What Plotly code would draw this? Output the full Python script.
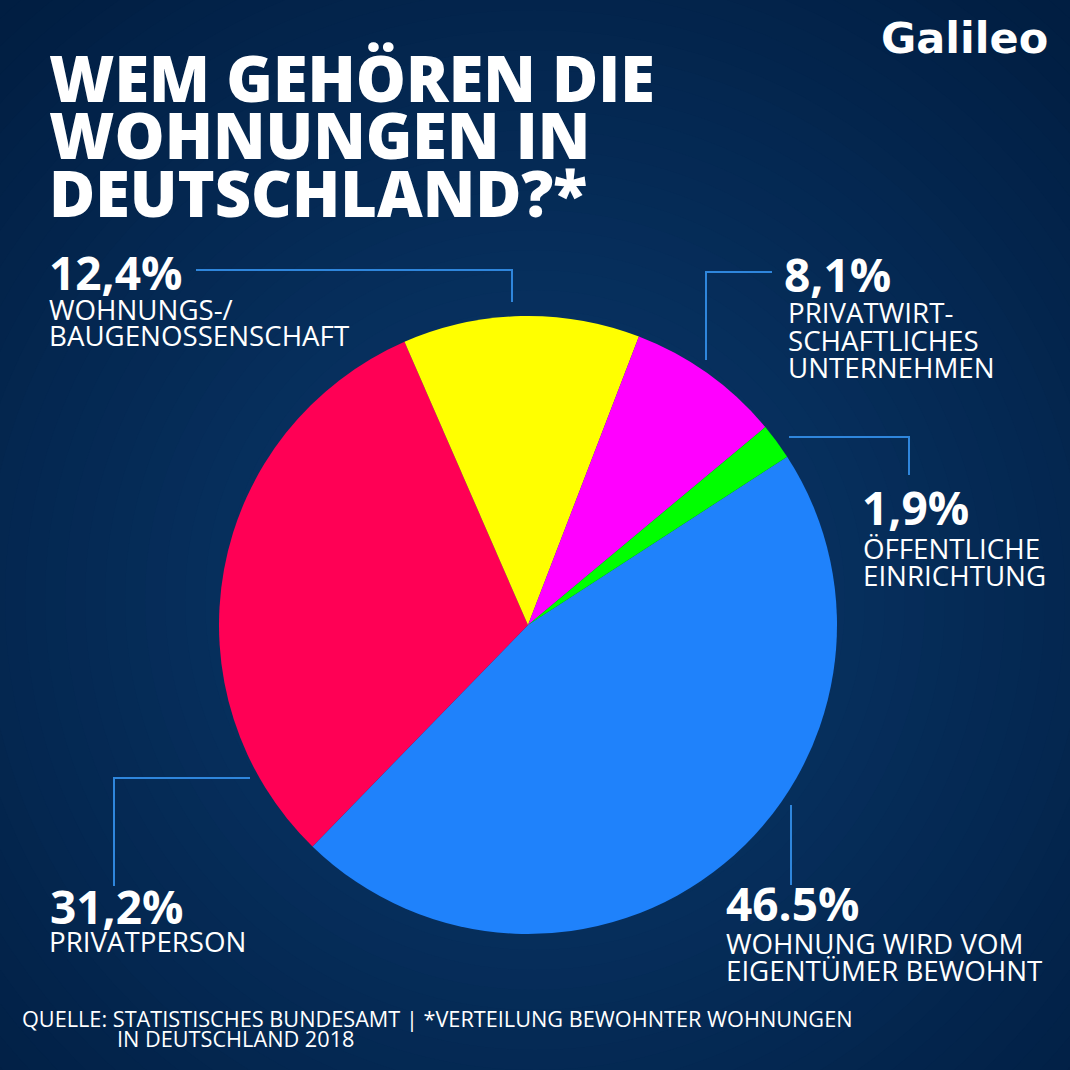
import plotly.graph_objects as go

SIZE = 1070
FONT = "Open Sans"
OUTER_BG = (1, 30, 66)
INNER_BG = (10, 58, 110)

labels = ["Wohnung wird vom Eigentümer bewohnt", "Privatperson", "Wohnungs-/Baugenossenschaft",
          "Privatwirtschaftliches Unternehmen", "Öffentliche Einrichtung"]
values = [46.5, 31.2, 12.4, 8.1, 1.9]
colors = ["#1f82fb", "#ff0055", "#ffff00", "#ff00ff", "#00ff00"]

title_lines = ["WEM GEHÖREN DIE", "WOHNUNGEN IN", "DEUTSCHLAND?*"]
source_lines = ["QUELLE: STATISTISCHES BUNDESAMT | *VERTEILUNG BEWOHNTER WOHNUNGEN",
                "IN DEUTSCHLAND 2018"]


def px(x):
    return x / SIZE


def py(y):
    return 1 - y / SIZE


fig = go.Figure(go.Pie(
    labels=labels,
    values=values,
    sort=False,
    direction="clockwise",
    rotation=57,
    marker=dict(colors=colors, line=dict(width=0)),
    textinfo="none",
    hoverinfo="label+value",
    showlegend=False,
    domain=dict(x=[px(219), px(837)], y=[py(934), py(316)]),
))

# radial background, a stack of circles from dark to light
steps = 40
for i in range(steps):
    t = i / (steps - 1)
    r = 780 * (1 - t) + 10
    col = [round(OUTER_BG[k] + (INNER_BG[k] - OUTER_BG[k]) * t) for k in range(3)]
    fig.add_shape(type="circle", xref="paper", yref="paper", layer="below",
                  x0=px(535 - r), x1=px(535 + r), y0=py(600 + r), y1=py(600 - r),
                  fillcolor=f"rgb({col[0]},{col[1]},{col[2]})", line_width=0)

# leader lines
leaders = [
    [(196, 270), (512, 270), (512, 302)],
    [(772, 272), (706, 272), (706, 360)],
    [(789, 437), (909, 437), (909, 475)],
    [(250, 778), (114, 778), (114, 886)],
    [(791, 805), (791, 885)],
]
for pts in leaders:
    path = "M " + " L ".join(f"{px(x)} {py(y)}" for x, y in pts)
    fig.add_shape(type="path", path=path, xref="paper", yref="paper",
                  line=dict(color="#2f86dc", width=2))


def text(x, y, s, size, weight=400, family=FONT):
    fig.add_annotation(x=px(x - 2), y=py(y), xref="paper", yref="paper", text=s,
                       xanchor="left", yanchor="middle", showarrow=False, borderpad=0,
                       font=dict(family=family, size=size, color="white", weight=weight))


for y, s in zip([78, 135, 193], title_lines):
    text(50, y, s, 63, 800)

text(50, 272, "12,4%", 46, 700)
text(50, 309, "WOHNUNGS-/", 27.7)
text(50, 335, "BAUGENOSSENSCHAFT", 27.7)

text(785, 274, "8,1%", 46, 700)
text(789, 312, "PRIVATWIRT-", 27.7)
text(789, 340, "SCHAFTLICHES", 27.7)
text(789, 367, "UNTERNEHMEN", 27.7)

text(863, 507, "1,9%", 46, 700)
text(864, 548, "ÖFFENTLICHE", 27.7)
text(864, 575, "EINRICHTUNG", 27.7)

text(51, 906, "31,2%", 46, 700)
text(50, 941, "PRIVATPERSON", 27.7)

text(727, 903, "46.5%", 46, 700)
text(727, 943, "WOHNUNG WIRD VOM", 27.7)
text(727, 970, "EIGENTÜMER BEWOHNT", 27.7)

text(23, 1018, source_lines[0], 21.7)
text(118, 1038, source_lines[1], 21.7)

text(882, 38, "Galileo", 43, 700, "DejaVu Sans")

fig.update_layout(
    width=SIZE,
    height=SIZE,
    margin=dict(l=0, r=0, t=0, b=0),
    paper_bgcolor="rgb(1,30,66)",
    plot_bgcolor="rgba(0,0,0,0)",
)

fig.write_html("out.html", config={"displayModeBar": False},
               post_script="document.body.style.margin='0';")
